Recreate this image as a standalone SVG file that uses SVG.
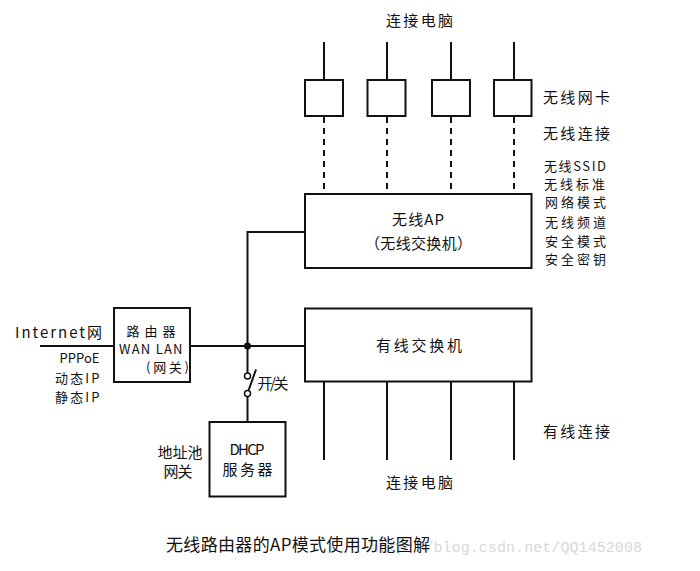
<svg xmlns="http://www.w3.org/2000/svg" width="700" height="571" viewBox="0 0 700 571">
<style>
text{font-family:"Noto Sans CJK SC","Liberation Sans",sans-serif;font-size:15px;fill:#111}
.s{font-size:13px}
.b{fill:#fff;stroke:#111;stroke-width:2}
.l{stroke:#111;stroke-width:2;fill:none}
.d{stroke:#111;stroke-width:2;stroke-dasharray:6,5;fill:none}
.cap{font-size:17px}
.wm{font-family:"Liberation Mono",monospace;font-size:15px;fill:#d8d8d8}
</style>
<rect width="700" height="571" fill="#fff"/>
<g id="connectors">
  <line class="l" x1="324" y1="42" x2="324" y2="80"/>
  <line class="l" x1="387" y1="42" x2="387" y2="80"/>
  <line class="l" x1="451" y1="42" x2="451" y2="80"/>
  <line class="l" x1="514" y1="42" x2="514" y2="80"/>
  <line class="d" x1="324" y1="117" x2="324" y2="194"/>
  <line class="d" x1="387" y1="117" x2="387" y2="194"/>
  <line class="d" x1="451" y1="117" x2="451" y2="194"/>
  <line class="d" x1="514" y1="117" x2="514" y2="194"/>
  <line class="l" x1="40" y1="346" x2="114" y2="346"/>
  <line class="l" x1="190" y1="346" x2="305" y2="346"/>
  <polyline class="l" points="305,232 247.5,232 247.5,373"/>
  <circle cx="247.5" cy="346" r="3.5" fill="#111"/>
  <circle cx="247.5" cy="376" r="3" fill="#fff" stroke="#111" stroke-width="1.5"/>
  <circle cx="247.5" cy="393.5" r="3" fill="#fff" stroke="#111" stroke-width="1.5"/>
  <line class="l" x1="248.5" y1="390.5" x2="256" y2="369.5"/>
  <line class="l" x1="247.5" y1="396.5" x2="247.5" y2="422"/>
  <line class="l" x1="324" y1="382" x2="324" y2="460"/>
  <line class="l" x1="387" y1="382" x2="387" y2="460"/>
  <line class="l" x1="451" y1="382" x2="451" y2="460"/>
  <line class="l" x1="514" y1="382" x2="514" y2="460"/>
</g>
<g id="pc-top"><text x="386" y="25.5" textLength="67" lengthAdjust="spacing">连接电脑</text></g>
<g id="nic1"><rect class="b" x="305" y="80" width="38" height="36"/></g>
<g id="nic2"><rect class="b" x="367.5" y="80" width="38" height="36"/></g>
<g id="nic3"><rect class="b" x="432" y="80" width="38" height="36"/></g>
<g id="nic4"><rect class="b" x="494" y="80" width="37.5" height="36"/></g>
<g id="labels-right">
  <text x="543" y="102.5" textLength="67" lengthAdjust="spacing">无线网卡</text>
  <text x="543" y="138.5" textLength="67" lengthAdjust="spacing">无线连接</text>
  <text class="s" x="544" y="170.5" textLength="62" lengthAdjust="spacing">无线SSID</text>
  <text class="s" x="544" y="188.5" textLength="61" lengthAdjust="spacing">无线标准</text>
  <text class="s" x="545" y="207" textLength="61" lengthAdjust="spacing">网络模式</text>
  <text class="s" x="545" y="226.5" textLength="61" lengthAdjust="spacing">无线频道</text>
  <text class="s" x="545" y="245.5" textLength="61" lengthAdjust="spacing">安全模式</text>
  <text class="s" x="545" y="263.5" textLength="61" lengthAdjust="spacing">安全密钥</text>
  <text x="543" y="437" textLength="67" lengthAdjust="spacing">有线连接</text>
</g>
<g id="ap">
  <rect class="b" x="305" y="194" width="226.5" height="74"/>
  <text x="392" y="224.5" textLength="52" lengthAdjust="spacing">无线AP</text>
  <text x="365" y="248.5" textLength="107" lengthAdjust="spacing">（无线交换机）</text>
</g>
<g id="internet">
  <text x="15" y="337.5" textLength="87" lengthAdjust="spacing">Internet网</text>
  <text class="s" x="59.5" y="363" textLength="40" lengthAdjust="spacing">PPPoE</text>
  <text class="s" x="55" y="382.5" textLength="44.5" lengthAdjust="spacing">动态IP</text>
  <text class="s" x="55" y="401.5" textLength="44.5" lengthAdjust="spacing">静态IP</text>
</g>
<g id="router">
  <rect class="b" x="114" y="308" width="76" height="74"/>
  <text class="s" x="126.5" y="335.5" textLength="49" lengthAdjust="spacing">路由器</text>
  <text class="s" x="119" y="354" textLength="63.5" lengthAdjust="spacing">WAN LAN</text>
  <text class="s" x="146" y="372" textLength="43" lengthAdjust="spacing">(网关)</text>
</g>
<g id="switch-label"><text x="257.5" y="388.5" textLength="31" lengthAdjust="spacing">开/关</text></g>
<g id="dhcp">
  <rect class="b" x="209.5" y="422" width="76" height="74.5"/>
  <text x="229.5" y="454.5" textLength="35" lengthAdjust="spacing">DHCP</text>
  <text x="222.5" y="474.5" textLength="50" lengthAdjust="spacing">服务器</text>
  <text x="157.5" y="458" textLength="45" lengthAdjust="spacing">地址池</text>
  <text x="163.5" y="477" textLength="29" lengthAdjust="spacing">网关</text>
</g>
<g id="wired-switch">
  <rect class="b" x="305" y="308.5" width="226.5" height="73"/>
  <text x="376" y="350.5" textLength="86" lengthAdjust="spacing">有线交换机</text>
</g>
<g id="pc-bottom"><text x="386" y="488" textLength="67" lengthAdjust="spacing">连接电脑</text></g>
<g id="caption">
  <text class="wm" x="370" y="552" textLength="272" lengthAdjust="spacing">http://blog.csdn.net/QQ1452008</text>
  <text class="cap" x="166" y="551" textLength="264" lengthAdjust="spacing">无线路由器的AP模式使用功能图解</text>
</g>
</svg>
